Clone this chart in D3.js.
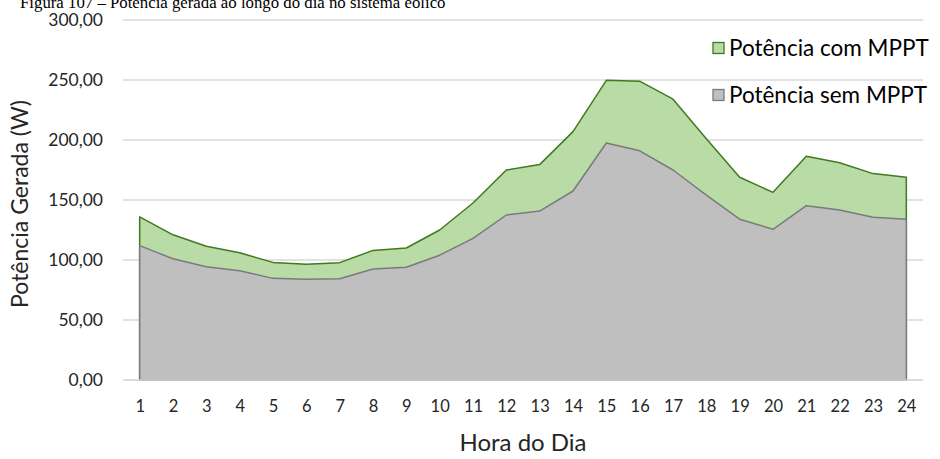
<!DOCTYPE html>
<html>
<head>
<meta charset="utf-8">
<script src="https://cdn.jsdelivr.net/npm/d3@7/dist/d3.min.js"></script>
<style>
  html, body { margin: 0; padding: 0; background: #fff; }
  svg { display: block; }
</style>
</head>
<body>
<svg id="chart" width="940" height="459"></svg>
<script>
// Hours of the day (categories)
const hours = [1, 2, 3, 4, 5, 6, 7, 8, 9, 10, 11, 12, 13, 14, 15, 16, 17, 18, 19, 20, 21, 22, 23, 24];
// Generated power with MPPT (W)
const comMPPT = [136, 121, 111.5, 106, 98, 96.4, 97.8, 108, 110, 125, 147.5, 175, 179.5, 207, 249.7, 249, 234, 201, 169, 156.4, 186.5, 181, 172, 169];
// Generated power without MPPT (W)
const semMPPT = [112, 101, 94.4, 91, 84.7, 84, 84.4, 92.5, 94, 104, 118, 137.5, 140.8, 157.5, 197.5, 191, 175, 154, 134, 125.6, 145.3, 141.7, 135.6, 134];
// Y axis ticks
const yTicks = [0, 50, 100, 150, 200, 250, 300];

const seriesNames = ["Potência com MPPT", "Potência sem MPPT"];

const svg = d3.select("#chart");
const plot = { left: 123, right: 923, top: 20, bottom: 380 };
const sansFont = "Lato, 'Open Sans', sans-serif";

const x = d3.scalePoint().domain(hours).range([plot.left, plot.right]).padding(0.5);
const y = d3.scaleLinear().domain([0, 300]).range([plot.bottom, plot.top]);
const fmt = v => d3.format(".2f")(v).replace(".", ",");

// Title line (its top runs off the upper edge)
svg.append("text")
  .attr("x", 20).attr("y", 7.5)
  .attr("font-family", "'Liberation Serif', 'Times New Roman', serif")
  .attr("font-size", 16.8)
  .attr("fill", "#000")
  .text("Figura 107 – Potência gerada ao longo do dia no sistema eólico");

// Horizontal gridlines
svg.append("g")
  .selectAll("line")
  .data(yTicks)
  .join("line")
  .attr("x1", plot.left).attr("x2", plot.right)
  .attr("y1", d => y(d)).attr("y2", d => y(d))
  .attr("stroke", "#d9d9d9").attr("stroke-width", 1.3);

// Y axis tick labels
const yAxis = d3.axisLeft(y).tickValues(yTicks).tickFormat(fmt).tickSize(0).tickPadding(20);
svg.append("g")
  .attr("transform", `translate(${plot.left},0)`)
  .call(yAxis)
  .call(g => g.select(".domain").remove())
  .selectAll("text")
  .attr("font-family", sansFont)
  .attr("font-size", 17.5)
  .attr("fill", "#262626");

const area = (vals) => d3.area()
  .x((d, i) => x(hours[i]))
  .y0(y(0))
  .y1(d => y(d))(vals);

// With-MPPT area (behind)
svg.append("path")
  .attr("d", area(comMPPT) + "Z")
  .attr("fill", "#b9dba6")
  .attr("stroke", "#3f7a1f")
  .attr("stroke-width", 1.5)
  .attr("stroke-linejoin", "round");

// Without-MPPT area (front)
svg.append("path")
  .attr("d", area(semMPPT) + "Z")
  .attr("fill", "#bfbfbf")
  .attr("stroke", "#7a7a7a")
  .attr("stroke-width", 1.5)
  .attr("stroke-linejoin", "round");

// Baseline
svg.append("line")
  .attr("x1", plot.left).attr("x2", plot.right)
  .attr("y1", y(0)).attr("y2", y(0))
  .attr("stroke", "#d9d9d9").attr("stroke-width", 1.3);

// X axis tick labels
const xAxis = d3.axisBottom(x).tickSize(0).tickPadding(20);
svg.append("g")
  .attr("transform", `translate(0,${plot.bottom})`)
  .call(xAxis)
  .call(g => g.select(".domain").remove())
  .selectAll("text")
  .attr("font-family", sansFont)
  .attr("font-size", 16.5)
  .attr("fill", "#262626");

// Axis titles
svg.append("text")
  .attr("x", (plot.left + plot.right) / 2).attr("y", 451)
  .attr("text-anchor", "middle")
  .attr("font-family", sansFont)
  .attr("font-size", 24)
  .attr("fill", "#262626")
  .text("Hora do Dia");

svg.append("text")
  .attr("transform", "translate(28,204) rotate(-90)")
  .attr("text-anchor", "middle")
  .attr("font-family", sansFont)
  .attr("font-size", 23)
  .attr("fill", "#262626")
  .text("Potência Gerada (W)");

// Legend
const legendItems = [
  { name: seriesNames[0], fill: "#b9dba6", stroke: "#3f7a1f", cy: 48 },
  { name: seriesNames[1], fill: "#bfbfbf", stroke: "#7a7a7a", cy: 95 }
];
const lg = svg.append("g").selectAll("g").data(legendItems).join("g");
lg.append("rect")
  .attr("x", 713).attr("y", d => d.cy - 5.5)
  .attr("width", 11).attr("height", 11)
  .attr("fill", d => d.fill).attr("stroke", d => d.stroke).attr("stroke-width", 1.3);
lg.append("text")
  .attr("x", 729).attr("y", d => d.cy)
  .attr("dy", "0.35em")
  .attr("font-family", sansFont)
  .attr("font-size", 22.5)
  .attr("fill", "#000")
  .text(d => d.name);
</script>
</body>
</html>
